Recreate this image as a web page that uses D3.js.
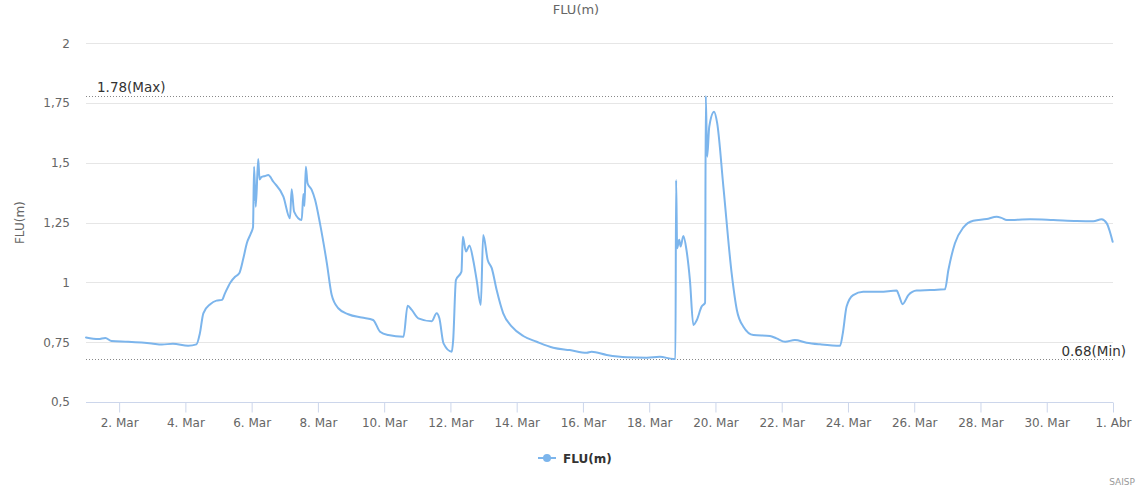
<!DOCTYPE html>
<html>
<head>
<meta charset="utf-8">
<script src="https://cdn.jsdelivr.net/npm/d3@7"></script>
<style>
  html, body { margin: 0; padding: 0; background: #fff; }
  svg { display: block; font-family: "DejaVu Sans", Verdana, sans-serif; }
</style>
</head>
<body>
<svg id="chart" width="1137" height="491"></svg>
<script>
// ---- data ----
const times = [
  "03-01 00:00","03-01 09:00","03-01 14:00","03-01 18:30","03-02 06:30","03-02 23:30",
  "03-03 07:00","03-03 15:00","03-04 02:00","03-04 08:00","03-04 10:30","03-04 13:00",
  "03-04 18:00","03-04 22:30","03-05 02:30","03-05 04:30","03-05 08:30","03-05 12:00",
  "03-05 15:00","03-05 18:00","03-05 20:30","03-05 23:30","03-06 01:00","03-06 01:45",
  "03-06 03:00","03-06 04:45","03-06 05:45","03-06 07:00","03-06 09:45","03-06 12:00",
  "03-06 15:45","03-06 23:00","03-07 03:45","03-07 05:00","03-07 06:45","03-07 12:15",
  "03-07 13:30","03-07 14:15","03-07 15:15","03-07 16:30","03-07 19:30","03-07 22:00",
  "03-08 01:30","03-08 06:30","03-08 10:00","03-08 14:45","03-08 22:00","03-09 07:45",
  "03-09 16:00","03-09 21:00","03-10 03:00","03-10 14:00","03-10 17:00","03-10 20:00",
  "03-11 00:45","03-11 10:30","03-11 14:00","03-11 16:00","03-11 19:00","03-12 01:00",
  "03-12 02:00","03-12 04:00","03-12 08:00","03-12 09:00","03-12 11:15","03-12 13:45",
  "03-12 16:30","03-12 19:00","03-12 22:00","03-12 23:45","03-13 03:00","03-13 06:00",
  "03-13 09:30","03-13 14:15","03-13 20:30","03-14 04:45","03-14 14:30","03-15 02:30",
  "03-15 14:30","03-16 02:45","03-16 06:15","03-16 17:15","03-17 07:45","03-17 22:15",
  "03-18 07:45","03-18 17:30","03-18 19:00","03-18 19:30","03-18 20:15","03-18 21:45",
  "03-18 22:45","03-19 00:45","03-19 03:00","03-19 05:30","03-19 08:00","03-19 10:30",
  "03-19 14:00","03-19 16:30","03-19 17:00","03-19 18:00","03-19 19:30","03-19 23:00",
  "03-20 01:15","03-20 05:45","03-20 11:45","03-20 15:30","03-20 20:15","03-21 03:30",
  "03-21 15:30","03-21 20:15","03-22 02:30","03-22 09:30","03-22 18:00","03-23 03:45",
  "03-23 18:15","03-23 20:15","03-23 23:00","03-24 03:45","03-24 11:00","03-24 23:15",
  "03-25 11:15","03-25 13:15","03-25 15:30","03-25 19:45","03-26 01:45","03-26 11:30",
  "03-26 22:15","03-27 00:45","03-27 05:30","03-27 11:30","03-27 18:45","03-28 04:30",
  "03-28 11:45","03-28 15:15","03-28 19:00","03-29 12:00","03-30 04:45","03-30 21:45",
  "03-31 09:45","03-31 15:45","03-31 19:30","03-31 21:45","03-31 23:45"
];
const fluValues = [
  0.770,0.763,0.768,0.755,0.752,0.745,
  0.740,0.744,0.735,0.741,0.787,0.871,
  0.909,0.924,0.927,0.952,0.999,1.024,
  1.038,1.101,1.164,1.206,1.231,1.484,
  1.317,1.516,1.430,1.440,1.445,1.449,
  1.421,1.359,1.268,1.390,1.296,1.261,
  1.370,1.320,1.484,1.415,1.387,1.345,
  1.247,1.080,0.947,0.892,0.867,0.853,
  0.843,0.794,0.780,0.773,0.903,0.885,
  0.850,0.838,0.871,0.850,0.745,0.710,
  0.759,1.010,1.045,1.191,1.129,1.154,
  1.094,1.010,0.906,1.198,1.094,1.059,
  0.968,0.871,0.815,0.776,0.752,0.727,
  0.717,0.706,0.710,0.697,0.687,0.685,
  0.689,0.680,0.680,1.428,1.143,1.178,
  1.150,1.194,1.136,1.010,0.822,0.843,
  0.899,0.915,1.780,1.526,1.651,1.714,
  1.666,1.400,1.038,0.885,0.815,0.780,
  0.776,0.766,0.752,0.759,0.748,0.741,
  0.735,0.787,0.899,0.947,0.961,0.961,
  0.966,0.941,0.909,0.947,0.966,0.968,
  0.971,1.052,1.164,1.229,1.258,1.265,
  1.275,1.270,1.261,1.264,1.261,1.257,
  1.256,1.264,1.247,1.212,1.170
];
const yTicks = [0.5, 0.75, 1, 1.25, 1.5, 1.75, 2];
const xTickDates = ["03-02","03-04","03-06","03-08","03-10","03-12","03-14","03-16",
  "03-18","03-20","03-22","03-24","03-26","03-28","03-30","04-01"];
const monthNames = ["Jan","Fev","Mar","Abr","Mai","Jun","Jul","Ago","Set","Out","Nov","Dez"];
const plotLines = [
  { value: 1.78, label: "1.78(Max)", side: "left" },
  { value: 0.68, label: "0.68(Min)", side: "right" }
];
const xDomainStrings = ["03-01 00:00", "04-01 00:00"];
const yDomain = [0.5, 2];
const seriesName = "FLU(m)";
const titleText = "FLU(m)";
const creditText = "SAISP";

// ---- layout ----
const W = 1137, H = 491;
const plotLeft = 86, plotRight = 1113, plotTop = 43.3, plotBottom = 402;
const parseT = d3.timeParse("%Y-%m-%d %H:%M");
const parseD = d3.timeParse("%Y-%m-%d");
const YEAR = "2019-";

const data = times.map((t, i) => ({ t: parseT(YEAR + t), v: fluValues[i] }));

const x = d3.scaleTime()
  .domain(xDomainStrings.map(s => parseT(YEAR + s)))
  .range([plotLeft, plotRight]);
const y = d3.scaleLinear().domain(yDomain).range([plotBottom, plotTop]);

const svg = d3.select("#chart");
svg.append("rect").attr("width", W).attr("height", H).attr("fill", "#fff");

// faint cut-off title at top
svg.append("text").attr("x", 576).attr("y", 14).attr("text-anchor", "middle")
  .attr("font-size", 13).attr("fill", "#666").text(titleText);

// grid
const grid = svg.append("g");
grid.selectAll("line").data(yTicks.filter(v => v !== yDomain[0])).join("line")
  .attr("x1", plotLeft).attr("x2", plotRight)
  .attr("y1", d => Math.round(y(d)) + 0.5).attr("y2", d => Math.round(y(d)) + 0.5)
  .attr("stroke", "#e6e6e6").attr("stroke-width", 1);

// y axis labels
const fmtY = v => String(v).replace(".", ",");
const yAxis = d3.axisLeft(y).tickValues(yTicks).tickFormat(fmtY).tickSize(0).tickPadding(16);
const yg = svg.append("g").attr("transform", `translate(${plotLeft},0)`).call(yAxis);
yg.select(".domain").remove();
yg.selectAll("text").attr("font-size", 12).attr("fill", "#666")
  .attr("font-family", "DejaVu Sans, Verdana, sans-serif");

// y axis title
svg.append("text")
  .attr("transform", `translate(24,${(plotTop + plotBottom) / 2}) rotate(-90)`)
  .attr("text-anchor", "middle").attr("font-size", 12).attr("fill", "#666")
  .text(seriesName);

// x axis
const tickDates = xTickDates.map(s => parseD(YEAR + s));
const fmtX = d => `${d.getDate()}. ${monthNames[d.getMonth()]}`;
const xAxis = d3.axisBottom(x).tickValues(tickDates).tickFormat(fmtX).tickSize(10).tickPadding(6).tickSizeOuter(0);
const xg = svg.append("g").attr("transform", `translate(0,${Math.round(plotBottom) + 0.5})`).call(xAxis);
xg.select(".domain").attr("stroke", "#ccd6eb").attr("d", `M${plotLeft},0H${plotRight}`);
xg.selectAll(".tick line").attr("stroke", "#ccd6eb");
xg.selectAll("text").attr("font-size", 12).attr("fill", "#666")
  .attr("font-family", "DejaVu Sans, Verdana, sans-serif");

// plot lines (max / min)
plotLines.forEach(p => {
  const yy = Math.round(y(p.value)) + 0.5;
  svg.append("line").attr("x1", plotLeft).attr("x2", plotRight)
    .attr("y1", yy).attr("y2", yy)
    .attr("stroke", "#888").attr("stroke-width", 1).attr("stroke-dasharray", "1,2");
  const t = svg.append("text").attr("font-size", 13.5).attr("fill", "#333").text(p.label);
  if (p.side === "left") t.attr("x", plotLeft + 11).attr("y", yy - 5);
  else t.attr("x", plotRight + 13).attr("y", yy - 4).attr("text-anchor", "end");
});

// series line
const line = d3.line().x(d => x(d.t)).y(d => y(d.v)).curve(d3.curveMonotoneX);
svg.append("path").datum(data).attr("d", line)
  .attr("fill", "none").attr("stroke", "#7cb5ec").attr("stroke-width", 2)
  .attr("stroke-linejoin", "round").attr("stroke-linecap", "round");

// legend
const lg = svg.append("g").attr("transform", "translate(538,458)");
lg.append("line").attr("x1", 0).attr("x2", 18).attr("y1", 0).attr("y2", 0)
  .attr("stroke", "#7cb5ec").attr("stroke-width", 2);
lg.append("circle").attr("cx", 9).attr("cy", 0).attr("r", 4).attr("fill", "#7cb5ec");
lg.append("text").attr("x", 25).attr("y", 4.5).attr("font-size", 12)
  .attr("font-weight", "bold").attr("fill", "#333").text(seriesName);

// credits
svg.append("text").attr("x", 1135).attr("y", 485).attr("text-anchor", "end")
  .attr("font-size", 9).attr("fill", "#999").text(creditText);
</script>
</body>
</html>
